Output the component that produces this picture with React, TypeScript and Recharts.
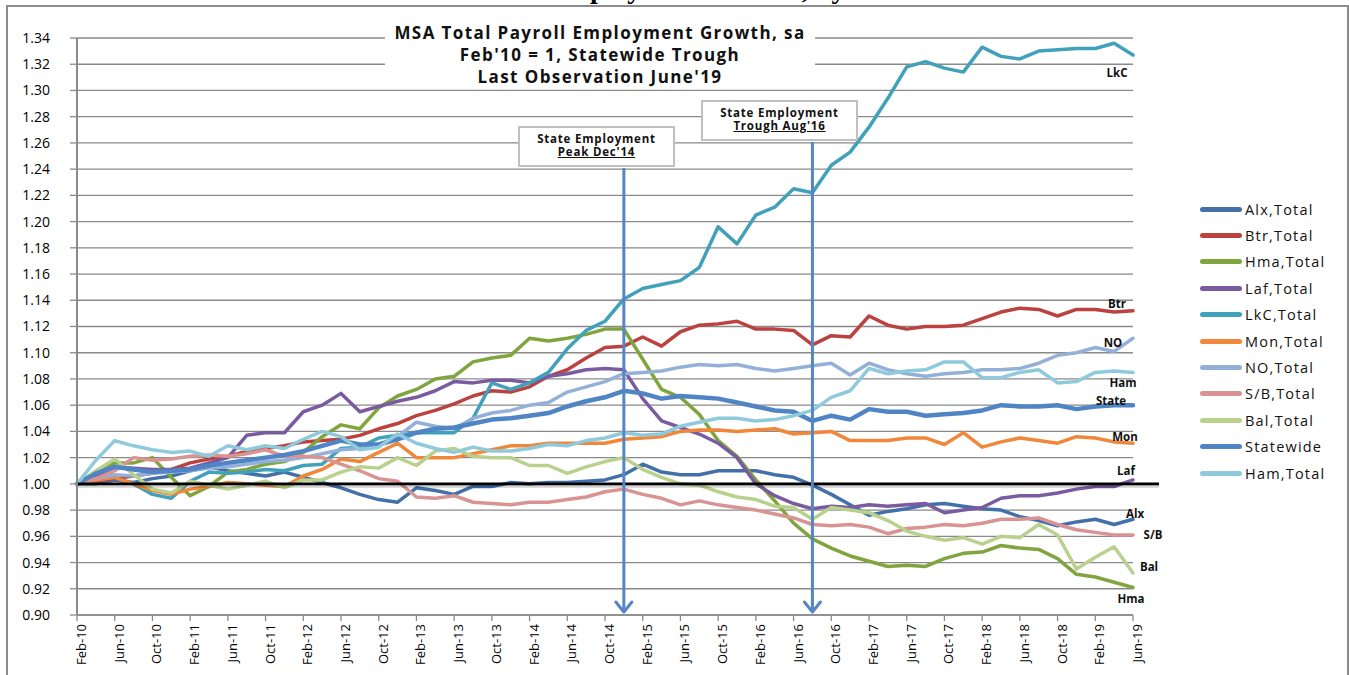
import { LineChart, Line, XAxis, YAxis, CartesianGrid, ReferenceLine, LabelList } from "recharts"

// bi-monthly observations, Feb-10 .. Jun-19
const months = [
  "Feb-10", "Apr-10", "Jun-10", "Aug-10", "Oct-10", "Dec-10",
  "Feb-11", "Apr-11", "Jun-11", "Aug-11", "Oct-11", "Dec-11",
  "Feb-12", "Apr-12", "Jun-12", "Aug-12", "Oct-12", "Dec-12",
  "Feb-13", "Apr-13", "Jun-13", "Aug-13", "Oct-13", "Dec-13",
  "Feb-14", "Apr-14", "Jun-14", "Aug-14", "Oct-14", "Dec-14",
  "Feb-15", "Apr-15", "Jun-15", "Aug-15", "Oct-15", "Dec-15",
  "Feb-16", "Apr-16", "Jun-16", "Aug-16", "Oct-16", "Dec-16",
  "Feb-17", "Apr-17", "Jun-17", "Aug-17", "Oct-17", "Dec-17",
  "Feb-18", "Apr-18", "Jun-18", "Aug-18", "Oct-18", "Dec-18",
  "Feb-19", "Apr-19", "Jun-19",
]

const alx = [
  1.000, 1.000, 1.003, 1.001, 1.004, 1.006, 1.010, 1.013, 1.010, 1.008,
  1.006, 1.009, 1.005, 1.001, 0.997, 0.992, 0.988, 0.986, 0.997, 0.995,
  0.992, 0.998, 0.998, 1.001, 1.000, 1.001, 1.001, 1.002, 1.003, 1.007,
  1.015, 1.009, 1.007, 1.007, 1.010, 1.010, 1.010, 1.007, 1.005, 0.999,
  0.992, 0.984, 0.976, 0.979, 0.981, 0.984, 0.985, 0.983, 0.981, 0.980,
  0.975, 0.972, 0.968, 0.971, 0.973, 0.969, 0.973,
]
const btr = [
  1.000, 1.002, 1.004, 1.006, 1.008, 1.011, 1.016, 1.019, 1.021, 1.025,
  1.027, 1.029, 1.032, 1.033, 1.034, 1.037, 1.042, 1.046, 1.052, 1.056,
  1.061, 1.067, 1.071, 1.070, 1.074, 1.082, 1.087, 1.096, 1.104, 1.105,
  1.112, 1.105, 1.116, 1.121, 1.122, 1.124, 1.118, 1.118, 1.117, 1.106,
  1.113, 1.112, 1.128, 1.121, 1.118, 1.120, 1.120, 1.121, 1.126, 1.131,
  1.134, 1.133, 1.128, 1.133, 1.133, 1.131, 1.132,
]
const hma = [
  1.000, 1.008, 1.016, 1.016, 1.020, 1.005, 0.991, 0.998, 1.009, 1.011,
  1.015, 1.017, 1.024, 1.036, 1.045, 1.042, 1.058, 1.067, 1.072, 1.080,
  1.082, 1.093, 1.096, 1.098, 1.111, 1.109, 1.111, 1.114, 1.118, 1.118,
  1.095, 1.072, 1.066, 1.053, 1.033, 1.021, 1.003, 0.987, 0.970, 0.958,
  0.951, 0.945, 0.941, 0.937, 0.938, 0.937, 0.943, 0.947, 0.948, 0.953,
  0.951, 0.950, 0.943, 0.931, 0.929, 0.925, 0.921,
]
const laf = [
  1.000, 1.006, 1.013, 1.012, 1.011, 1.011, 1.012, 1.016, 1.020, 1.037,
  1.039, 1.039, 1.055, 1.060, 1.069, 1.055, 1.059, 1.063, 1.066, 1.071,
  1.078, 1.077, 1.079, 1.079, 1.077, 1.082, 1.084, 1.087, 1.088, 1.087,
  1.065, 1.048, 1.043, 1.038, 1.031, 1.020, 1.000, 0.991, 0.985, 0.981,
  0.983, 0.982, 0.984, 0.983, 0.984, 0.985, 0.978, 0.980, 0.982, 0.989,
  0.991, 0.991, 0.993, 0.996, 0.998, 0.998, 1.003,
]
const lkc = [
  1.000, 1.003, 1.005, 1.000, 0.992, 0.989, 1.002, 1.009, 1.008, 1.009,
  1.011, 1.010, 1.014, 1.015, 1.027, 1.028, 1.035, 1.037, 1.039, 1.039,
  1.039, 1.050, 1.077, 1.072, 1.077, 1.085, 1.103, 1.117, 1.124, 1.141,
  1.149, 1.152, 1.155, 1.165, 1.196, 1.183, 1.205, 1.211, 1.225, 1.222,
  1.243, 1.253, 1.272, 1.294, 1.318, 1.322, 1.317, 1.314, 1.333, 1.326,
  1.324, 1.330, 1.331, 1.332, 1.332, 1.336, 1.327,
]
const mon = [
  1.000, 1.003, 1.005, 1.000, 0.995, 0.992, 0.996, 0.998, 1.001, 1.000,
  0.999, 0.998, 1.006, 1.011, 1.019, 1.017, 1.024, 1.031, 1.020, 1.020,
  1.020, 1.023, 1.026, 1.029, 1.029, 1.031, 1.031, 1.031, 1.031, 1.034,
  1.035, 1.036, 1.040, 1.041, 1.041, 1.040, 1.041, 1.042, 1.038, 1.039,
  1.040, 1.033, 1.033, 1.033, 1.035, 1.035, 1.030, 1.039, 1.028, 1.032,
  1.035, 1.033, 1.031, 1.036, 1.035, 1.032, 1.031,
]
const no = [
  1.000, 1.004, 1.007, 1.006, 1.008, 1.009, 1.010, 1.012, 1.013, 1.015,
  1.017, 1.018, 1.020, 1.023, 1.026, 1.027, 1.030, 1.036, 1.047, 1.044,
  1.042, 1.050, 1.054, 1.056, 1.060, 1.062, 1.070, 1.074, 1.078, 1.084,
  1.085, 1.086, 1.089, 1.091, 1.090, 1.091, 1.088, 1.086, 1.088, 1.090,
  1.092, 1.083, 1.092, 1.087, 1.084, 1.082, 1.084, 1.085, 1.087, 1.087,
  1.088, 1.092, 1.098, 1.100, 1.104, 1.101, 1.111,
]
const sb = [
  1.000, 1.004, 1.010, 1.020, 1.018, 1.019, 1.021, 1.022, 1.021, 1.023,
  1.026, 1.021, 1.021, 1.020, 1.015, 1.010, 1.004, 1.002, 0.990, 0.989,
  0.991, 0.986, 0.985, 0.984, 0.986, 0.986, 0.988, 0.990, 0.994, 0.996,
  0.992, 0.989, 0.984, 0.987, 0.984, 0.982, 0.980, 0.977, 0.974, 0.969,
  0.968, 0.969, 0.967, 0.962, 0.966, 0.967, 0.969, 0.968, 0.970, 0.973,
  0.973, 0.974, 0.969, 0.965, 0.963, 0.961, 0.961,
]
const bal = [
  1.000, 1.010, 1.019, 1.007, 0.996, 0.993, 1.002, 0.999, 0.996, 0.999,
  1.002, 0.997, 1.003, 1.003, 1.009, 1.013, 1.012, 1.020, 1.014, 1.025,
  1.027, 1.021, 1.020, 1.020, 1.014, 1.014, 1.008, 1.013, 1.017, 1.020,
  1.011, 1.005, 1.000, 0.999, 0.994, 0.990, 0.988, 0.983, 0.982, 0.973,
  0.982, 0.980, 0.978, 0.972, 0.964, 0.960, 0.957, 0.959, 0.954, 0.960,
  0.959, 0.969, 0.961, 0.935, 0.944, 0.952, 0.932,
]
const statewide = [
  1.000, 1.008, 1.013, 1.011, 1.009, 1.010, 1.011, 1.014, 1.016, 1.018,
  1.020, 1.022, 1.025, 1.029, 1.033, 1.030, 1.030, 1.034, 1.039, 1.042,
  1.043, 1.046, 1.049, 1.050, 1.052, 1.054, 1.059, 1.063, 1.066, 1.071,
  1.069, 1.065, 1.067, 1.066, 1.065, 1.062, 1.059, 1.056, 1.055, 1.048,
  1.052, 1.049, 1.057, 1.055, 1.055, 1.052, 1.053, 1.054, 1.056, 1.060,
  1.059, 1.059, 1.060, 1.057, 1.059, 1.060, 1.060,
]
const ham = [
  1.000, 1.018, 1.033, 1.029, 1.026, 1.024, 1.025, 1.021, 1.029, 1.026,
  1.029, 1.027, 1.034, 1.040, 1.036, 1.026, 1.028, 1.038, 1.031, 1.027,
  1.024, 1.028, 1.025, 1.025, 1.027, 1.030, 1.029, 1.033, 1.035, 1.039,
  1.037, 1.038, 1.044, 1.047, 1.050, 1.050, 1.048, 1.049, 1.052, 1.056,
  1.066, 1.071, 1.088, 1.084, 1.086, 1.087, 1.093, 1.093, 1.081, 1.081,
  1.085, 1.087, 1.077, 1.078, 1.085, 1.086, 1.085,
]

const yTicks = [0.9, 0.92, 0.94, 0.96, 0.98, 1.0, 1.02, 1.04, 1.06, 1.08, 1.1, 1.12, 1.14, 1.16, 1.18, 1.2, 1.22, 1.24, 1.26, 1.28, 1.3, 1.32, 1.34]

// styling + end-label nudges (pixels from last point)
const series = [
  { key: "alx", name: "Alx,Total", tag: "Alx", values: alx, color: "#4470AA", width: 3.5, dx: 2, dy: -6 },
  { key: "btr", name: "Btr,Total", tag: "Btr", values: btr, color: "#BB423F", width: 3.5, dx: -16, dy: -7 },
  { key: "hma", name: "Hma,Total", tag: "Hma", values: hma, color: "#80A53F", width: 3.5, dx: -2, dy: 11 },
  { key: "laf", name: "Laf,Total", tag: "Laf", values: laf, color: "#7A5B9F", width: 3.5, dx: -7, dy: -9 },
  { key: "lkc", name: "LkC,Total", tag: "LkC", values: lkc, color: "#41A1BB", width: 3.5, dx: -16, dy: 17 },
  { key: "mon", name: "Mon,Total", tag: "Mon", values: mon, color: "#F0873A", width: 3.5, dx: -8, dy: -7 },
  { key: "no", name: "NO,Total", tag: "NO", values: no, color: "#93B1D8", width: 3.5, dx: -20, dy: 4 },
  { key: "sb", name: "S/B,Total", tag: "S/B", values: sb, color: "#D99392", width: 3.5, dx: 20, dy: -1 },
  { key: "bal", name: "Bal,Total", tag: "Bal", values: bal, color: "#B9D18D", width: 3.5, dx: 16, dy: -7 },
  { key: "statewide", name: "Statewide", tag: "State", values: statewide, color: "#4F84C5", width: 4.5, dx: -22, dy: -5 },
  { key: "ham", name: "Ham,Total", tag: "Ham", values: ham, color: "#8FCADC", width: 3.5, dx: -10, dy: 10 },
]

const data = months.map((m, k) => {
  const row: Record<string, any> = { month: m }
  series.forEach((s) => (row[s.key] = s.values[k]))
  return row
})

const FONT = "'Open Sans', 'DejaVu Sans', sans-serif"
const GRID = "#8a8a8a"
const ARROW = "#5585C3"

function MonthTick({ x, y, payload }: any) {
  return (
    <text
      transform={`translate(${x + 9},${y + 1}) rotate(-90)`}
      textAnchor="end"
      fontSize={13}
      fontFamily={FONT}
      fill="#000"
    >
      {payload.value}
    </text>
  )
}

function arrowShape(top: number) {
  return (p: any) => {
    const x = p.x1
    const bottom = Math.max(p.y1, p.y2) - 3
    return (
      <g>
        <line x1={x} y1={top} x2={x} y2={bottom} stroke={ARROW} strokeWidth={3} />
        <polyline
          points={`${x - 8},${bottom - 10} ${x},${bottom} ${x + 8},${bottom - 10}`}
          fill="none"
          stroke={ARROW}
          strokeWidth={3}
          strokeLinecap="round"
          strokeLinejoin="round"
        />
      </g>
    )
  }
}

function baseLine(p: any) {
  return (
    <g>
      <line x1={p.x1} y1={p.y1 + 2.5} x2={p.x2 + 26} y2={p.y2 + 2.5} stroke="rgba(0,0,0,0.18)" strokeWidth={3} />
      <line x1={p.x1} y1={p.y1} x2={p.x2 + 26} y2={p.y2} stroke="#000" strokeWidth={2.6} />
    </g>
  )
}

export default function App() {
  const last = months.length - 1
  return (
    <div style={{ position: "absolute", left: 0, top: 0, width: 1349, height: 675, overflow: "hidden", background: "#fff", fontFamily: FONT }}>
      {/* page heading, cropped by the top edge as in the source page */}
      <div style={{ position: "absolute", left: 548, top: -25, fontFamily: "'Liberation Serif', serif", fontWeight: 700, fontSize: 28, lineHeight: "28px", whiteSpace: "nowrap" }}>
        Employment Growth, by MSA
      </div>
      <div style={{ position: "absolute", left: 6, top: 5, width: 1339, height: 720, border: "2px solid #8c8c8c" }} />

      <div style={{ position: "absolute", left: 0, top: 0 }}>
        <LineChart width={1349} height={675} data={data} margin={{ top: 38, right: 216, bottom: 0, left: 7 }}>
          <CartesianGrid vertical={false} stroke={GRID} strokeWidth={1.3} />
          <XAxis
            dataKey="month"
            scale="point"
            interval={1}
            height={60}
            tickSize={6}
            tickMargin={2}
            axisLine={{ stroke: GRID, strokeWidth: 1.5 }}
            tickLine={{ stroke: GRID, strokeWidth: 1.3 }}
            tick={(p: any) => <MonthTick {...p} />}
          />
          <YAxis
            type="number"
            domain={[0.9, 1.34]}
            ticks={yTicks}
            interval={0}
            width={70}
            tickSize={7}
            tickMargin={20}
            tickFormatter={(v: number) => v.toFixed(2)}
            axisLine={{ stroke: GRID, strokeWidth: 2 }}
            tickLine={{ stroke: GRID, strokeWidth: 1.3 }}
            tick={{ fontSize: 14, fill: "#000", fontFamily: FONT }}
          />
          {series.map((s) => (
            <Line
              key={s.key}
              dataKey={s.key}
              name={s.name}
              type="linear"
              stroke={s.color}
              strokeWidth={s.width}
              strokeLinejoin="round"
              strokeLinecap="round"
              dot={false}
              isAnimationActive={false}
            >
              <LabelList
                dataKey={s.key}
                content={(p: any) => {
                  if (p.index !== last) return null
                  const px = p.x ?? p.viewBox?.x
                  const py = p.y ?? p.viewBox?.y
                  return (
                    <text
                      x={px + s.dx}
                      y={py + s.dy}
                      textAnchor="middle"
                      dominantBaseline="central"
                      fontSize={11.5}
                      fontWeight={700}
                      fontFamily={FONT}
                      fill="#111"
                    >
                      {s.tag}
                    </text>
                  )
                }}
              />
            </Line>
          ))}
          <ReferenceLine y={1} shape={baseLine} />
          <ReferenceLine x="Dec-14" shape={arrowShape(168)} />
          <ReferenceLine x="Aug-16" shape={arrowShape(142)} />
        </LineChart>
      </div>

      {/* chart title box */}
      <div style={{ position: "absolute", left: 385, top: 14, width: 430, height: 75, background: "#fff", textAlign: "center", fontWeight: 700, fontSize: 17, letterSpacing: 1.4, lineHeight: "22px", paddingTop: 8, boxSizing: "border-box", color: "#111", whiteSpace: "nowrap" }}>
        <div>MSA Total Payroll Employment Growth, sa</div>
        <div>Feb'10 = 1, Statewide Trough</div>
        <div>Last Observation June'19</div>
      </div>

      {/* annotation boxes */}
      {[
        { left: 518, top: 126, line2: "Peak Dec'14" },
        { left: 701, top: 100, line2: "Trough Aug'16" },
      ].map((b) => (
        <div key={b.line2} style={{ position: "absolute", left: b.left, top: b.top, width: 157, height: 41, background: "#fff", border: "2px solid #c0c0c0", boxSizing: "border-box", textAlign: "center", fontWeight: 700, fontSize: 11.5, letterSpacing: 0.8, lineHeight: "13px", paddingTop: 4, color: "#111", whiteSpace: "nowrap" }}>
          <div>State Employment</div>
          <div style={{ textDecoration: "underline" }}>{b.line2}</div>
        </div>
      ))}

      {/* legend */}
      <div style={{ position: "absolute", left: 1200, top: 196 }}>
        {series.map((s) => (
          <div key={s.key} style={{ display: "flex", alignItems: "center", height: 26.4 }}>
            <div style={{ width: 42, height: 5, borderRadius: 3, background: s.color, marginRight: 3 }} />
            <span style={{ fontSize: 14.5, letterSpacing: 1.2, color: "#111", whiteSpace: "nowrap" }}>{s.name}</span>
          </div>
        ))}
      </div>
    </div>
  )
}
